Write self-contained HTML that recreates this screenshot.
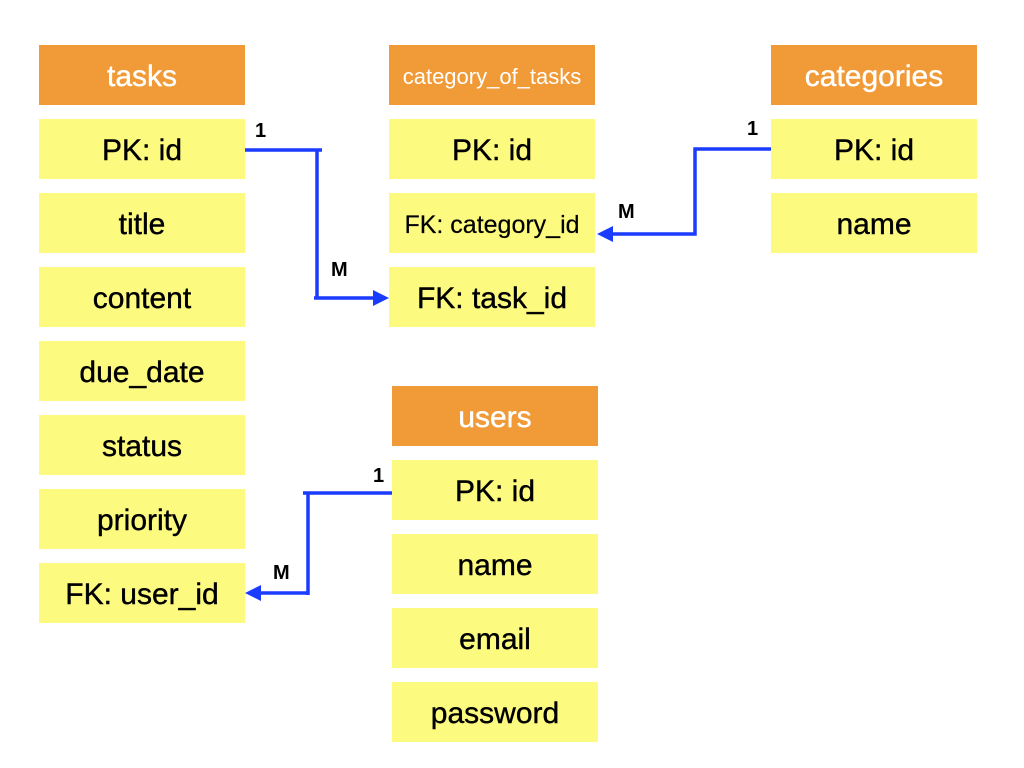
<!DOCTYPE html>
<html><head><meta charset="utf-8"><style>
body{margin:0;width:1024px;height:768px;background:#fff;position:relative;font-family:"Liberation Sans",sans-serif;overflow:hidden}
.b{position:absolute;width:206px;height:60px;display:flex;align-items:center;justify-content:center;font-size:30px;color:#000;background:#fdfa80;-webkit-text-stroke:0.4px #000;padding-top:4px;box-sizing:border-box}
.h{background:#f09a38;color:#fff;-webkit-text-stroke:0.4px #fff}
.l{position:absolute;font-weight:bold;font-size:20px}
</style></head><body>
<div class="b h" style="left:39px;top:45px">tasks</div>
<div class="b" style="left:39px;top:119px">PK: id</div>
<div class="b" style="left:39px;top:193px">title</div>
<div class="b" style="left:39px;top:267px">content</div>
<div class="b" style="left:39px;top:341px">due_date</div>
<div class="b" style="left:39px;top:415px">status</div>
<div class="b" style="left:39px;top:489px">priority</div>
<div class="b" style="left:39px;top:563px">FK: user_id</div>

<div class="b h" style="left:389px;top:45px;font-size:22px;-webkit-text-stroke:0">category_of_tasks</div>
<div class="b" style="left:389px;top:119px">PK: id</div>
<div class="b" style="left:389px;top:193px;font-size:25px;-webkit-text-stroke:0.2px #000">FK: category_id</div>
<div class="b" style="left:389px;top:267px">FK: task_id</div>

<div class="b h" style="left:771px;top:45px">categories</div>
<div class="b" style="left:771px;top:119px">PK: id</div>
<div class="b" style="left:771px;top:193px">name</div>

<div class="b h" style="left:392px;top:386px">users</div>
<div class="b" style="left:392px;top:460px">PK: id</div>
<div class="b" style="left:392px;top:534px">name</div>
<div class="b" style="left:392px;top:608px">email</div>
<div class="b" style="left:392px;top:682px">password</div>

<svg width="1024" height="768" style="position:absolute;left:0;top:0">
<g stroke="#1a3cff" stroke-width="3.5" fill="none">
<path d="M245 150H322M317 150V298M314 298H376"/>
<path d="M771 149H695V234H612"/>
<path d="M392 493H303M308 493V595M308 593H258"/>
</g>
<g fill="#1a3cff">
<polygon points="389,298 373,290 373,306"/>
<polygon points="597,234 613,226 613,242"/>
<polygon points="245,593 261,585 261,601"/>
</g>
</svg>
<div class="l" style="left:255px;top:120px">1</div>
<div class="l" style="left:331px;top:259px">M</div>
<div class="l" style="left:747px;top:118px">1</div>
<div class="l" style="left:618px;top:201px">M</div>
<div class="l" style="left:373px;top:465px">1</div>
<div class="l" style="left:273px;top:562px">M</div>
</body></html>
